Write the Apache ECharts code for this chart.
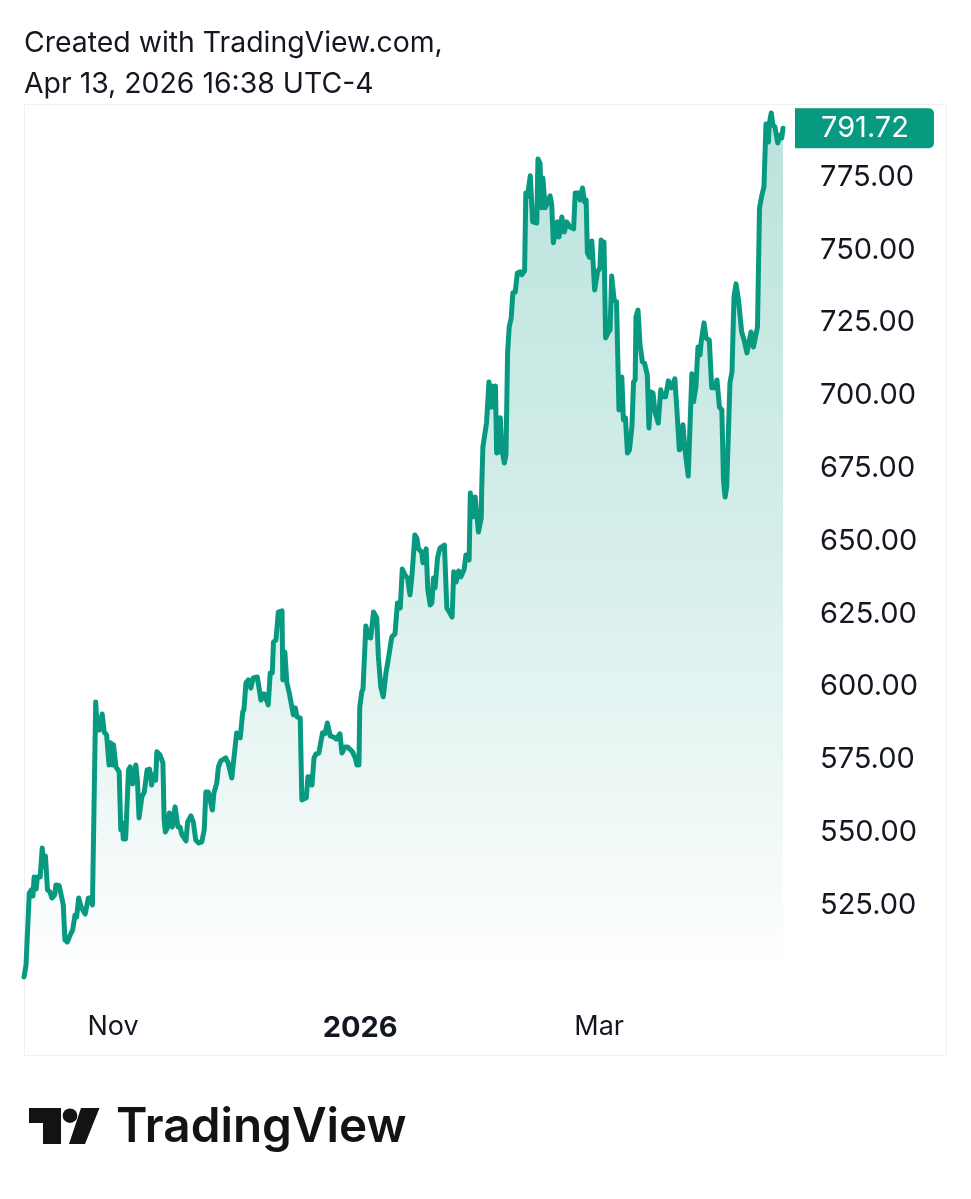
<!DOCTYPE html>
<html>
<head>
  <meta charset="utf-8">
  <title>TradingView chart</title>
  <script src="https://cdn.jsdelivr.net/npm/echarts@6/dist/echarts.min.js"></script>
  <style>
    body { margin: 0; padding: 0; background: #fff; }
    #main { width: 971px; height: 1199px; }
  </style>
</head>
<body>
<div id="main"></div>
<script>
// days counted from 2025-11-01
const days = [
  -22, -21.5, -21.2, -20.7, -20.2, -19.8, -19.5, -19, -18.7, -18, -17.5, -17.1, -16.7, -16.2, -15.6, -15.1, -14.4, -14.1, -13.3, -12.3,
  -11.9, -11.3, -10.6, -10, -9.4, -9, -8.5, -7.9, -7.5, -6.9, -6.1, -5.5, -5.1, -4.7, -4.3, -3.9, -3.4, -2.7, -2.2, -1.6,
  -1, -0.6, -0.2, 0.1, 0.7, 1.5, 1.9, 2.3, 2.5, 3.1, 3.8, 4.2, 4.8, 5.2, 5.6, 6, 6.4, 7.1, 7.7, 8.4,
  9, 9.5, 10, 10.5, 10.8, 11.6, 12.3, 12.6, 12.9, 13.4, 13.9, 14.6, 15.3, 16, 16.5, 17, 18, 18.4, 19.2, 19.8,
  20.4, 21.1, 21.9, 22.5, 22.9, 23.5, 24.5, 24.9, 25.6, 26, 26.6, 27.8, 28.4, 29.3, 29.7, 30.5, 31.4, 32, 32.3, 32.8,
  33.4, 34, 34.6, 35.6, 36.5, 37.3, 38.3, 38.8, 39.3, 39.6, 40.2, 40.8, 41.7, 41.9, 42.4, 42.9, 43.5, 44.5, 45, 45.4,
  46.2, 46.6, 47.7, 48.1, 48.6, 49.1, 49.6, 50.1, 50.8, 51.7, 52.3, 52.9, 53.6, 54.4, 55.1, 56, 56.5, 57.3, 57.9, 59.1,
  59.8, 60.2, 60.7, 60.9, 61.4, 61.7, 62, 62.4, 63, 63.6, 64.3, 65.1, 65.5, 66.1, 66.7, 67.4, 67.8, 68.2, 68.8, 69.6,
  70.2, 70.6, 70.9, 71.4, 72.1, 72.7, 73.3, 73.8, 74.1, 74.5, 75, 75.4, 76.2, 76.5, 77.3, 77.7, 78.3, 78.7, 79.1, 79.5,
  80.1, 80.7, 81.8, 82.4, 83, 83.7, 84.1, 84.7, 85.3, 85.9, 86.7, 87.1, 87.9, 88.2, 88.6, 88.9, 89.4, 90.2, 90.9, 91,
  91.3, 92.2, 92.8, 93.3, 93.6, 94, 94.4, 94.7, 95.2, 95.6, 96, 96.6, 97, 97.4, 97.8, 98.3, 98.7, 99.3, 99.8, 100.5,
  100.9, 101.6, 101.9, 102.3, 103, 103.6, 104.6, 104.9, 105.4, 105.8, 106.1, 106.7, 107.9, 108.3, 108.7, 109.1, 109.7, 110.1, 110.8, 111.4,
  112, 112.8, 113.7, 114.1, 114.9, 115.3, 115.9, 116.4, 116.8, 117.1, 117.6, 118.2, 118.9, 119.6, 120.2, 120.5, 120.9, 121.2, 121.6, 122.3,
  122.7, 123.1, 123.7, 124.3, 124.9, 125.6, 126, 126.5, 127, 127.5, 128.1, 128.5, 128.9, 129.1, 129.6, 130.1, 130.7, 131.2, 131.9, 132.3,
  132.8, 133.3, 133.8, 134.6, 135.2, 135.7, 136.4, 137.1, 137.9, 138.7, 139.2, 139.8, 140.2, 140.7, 141.2, 142, 142.9, 143.3, 143.9, 144.4,
  144.9, 145.2, 145.9, 146.4, 147.2, 147.8, 148.6, 149.1, 149.7, 150.3, 150.7, 151.1, 151.5, 152.3, 152.8, 153.2, 153.3, 153.8, 154.4, 155.2,
  155.8, 156.5, 157.5, 158.1, 159.1, 159.6, 160.2, 160.7, 161.2, 161.8, 162, 162.5, 162.9, 163.4, 164.1, 164.7, 165.1, 165.4
];
const prices = [
  500.3, 504.4, 504.4, 529.1, 530.2, 528.1, 534.6, 530.5, 534.6, 534.6, 544.6, 538.1, 541.8, 530.2, 529.5, 527.4, 528.5, 531.9, 531.6, 525,
  513, 512.3, 514.7, 516.4, 521.6, 520.9, 527.4, 524.3, 524.3, 521.9, 527.4, 527.4, 525, 525, 594.7, 585.1, 585.1, 590.6, 584.4, 583.4,
  573.1, 580.7, 573.1, 580, 572.4, 570.7, 550.8, 553.2, 547.7, 547.7, 571.4, 572.4, 566.6, 566.6, 573.1, 567.9, 554.9, 562.1, 563.8, 571.4,
  571.7, 566.2, 569.7, 567.9, 577.6, 576.5, 573.8, 554.2, 550.1, 551.5, 556.6, 551.8, 558.7, 551.8, 551.8, 549.1, 547, 553.5, 555.6, 553.5,
  547.3, 546.3, 546.7, 550.8, 563.8, 563.8, 557.6, 563.5, 566.9, 572.4, 574.5, 575.5, 573.8, 568.6, 568.6, 584.1, 582.4, 591.3, 592, 601.3,
  602.3, 599.5, 603, 603.3, 595.4, 597.5, 593.7, 604.7, 604.7, 615.3, 616, 625.6, 626, 602.3, 611.9, 601.3, 597.8, 590.3, 592.7, 589.6,
  589.2, 561.1, 561.8, 569, 569, 566.2, 575.5, 576.9, 577.2, 584.1, 583.8, 587.5, 583.1, 582.7, 582, 583.8, 577.2, 579.3, 579.3, 577.6,
  575.5, 573.1, 573.1, 593, 598.2, 599.2, 599.5, 620.8, 617, 616.7, 625.6, 623.6, 610.2, 599.9, 596.5, 605, 608.1, 608.5, 617, 618.1,
  628.7, 629, 627, 640.4, 638.3, 637.3, 631.5, 638.3, 638.3, 652.1, 651, 647.3, 646.2, 642.5, 647.3, 633.2, 628, 628.7, 637.3, 633.9,
  644.2, 647.6, 648.6, 627, 625.6, 623.9, 639.4, 635.9, 639.7, 637.7, 640.4, 645.2, 643.5, 666.5, 666.9, 658.3, 665.1, 653.1, 657.9, 667.5,
  682.3, 690.6, 704.6, 696, 703.2, 696, 703.2, 680.2, 680.6, 692.3, 681.3, 676.8, 679.6, 714.6, 723.5, 726.6, 735.2, 735.5, 742, 742.4,
  741.4, 742.7, 769.5, 768.2, 775.4, 759.6, 759.2, 781.2, 779.8, 764.4, 774.7, 764.4, 768.5, 765.4, 752.4, 752.4, 759.6, 754.4, 761.3, 756.1,
  759.6, 757.8, 757.2, 769.5, 769.5, 767.1, 771.2, 766.4, 767.1, 749, 747.5, 753, 736.2, 742.4, 743.8, 753.4, 744.1, 752.7, 719.7, 721.8,
  722.5, 741, 732.8, 732.1, 695, 706.3, 691.6, 692.3, 680.2, 681.3, 689.2, 704.6, 705.3, 727, 729.3, 717.3, 711.5, 711.1, 707, 688.8,
  701.2, 700.8, 694.3, 690.5, 701.9, 699.5, 699.5, 705, 702.6, 705.7, 695, 681.3, 682, 689.9, 681.3, 672.3, 707.4, 697.8, 702.9, 716.6,
  713.9, 718.4, 724.9, 719.7, 719, 702.6, 702.6, 705.3, 696, 695, 671, 665.1, 668.6, 704.3, 708, 708.4, 733.8, 738.3, 732.8, 721.8,
  719, 714.6, 721.8, 716.6, 723.5, 764.4, 768.8, 771.6, 793.2, 787, 793.2, 797, 792.9, 792.2, 786.7, 789.4, 788.4, 791.72
];
const monthTicks = [0, 61, 120];
const monthLabels = ['Nov', '{b|2026}', 'Mar'];

const GREEN = '#089981';
const FONT = 'Inter';
const chart = echarts.init(document.getElementById('main'), null, { renderer: 'canvas' });

chart.setOption({
  animation: false,
  backgroundColor: '#fff',
  grid: { left: 24, right: 188, top: 104.2, height: 873.6, containLabel: false },
  xAxis: {
    type: 'value',
    min: -22,
    max: 165.4,
    splitLine: { show: false },
    axisLine: { show: false },
    axisTick: { show: false },
    axisLabel: {
      customValues: monthTicks,
      margin: 36,
      color: '#131722',
      fontFamily: FONT,
      fontSize: 27,
      formatter: function (v) { return monthLabels[monthTicks.indexOf(v)]; },
      rich: { b: { fontFamily: FONT, fontSize: 29, fontWeight: 700, color: '#131722' } }
    }
  },
  yAxis: {
    type: 'value',
    position: 'right',
    min: 500,
    max: 800,
    interval: 25,
    splitLine: { show: false },
    axisLine: { show: false },
    axisTick: { show: false },
    axisLabel: {
      margin: 37,
      color: '#131722',
      fontFamily: FONT,
      fontSize: 29,
      padding: [3, 0, 0, 0],
      formatter: function (v) { return v === 500 || v === 800 ? '' : v.toFixed(2); }
    }
  },
  series: [{
    type: 'line',
    data: days.map(function (d, i) { return [d, prices[i]]; }),
    symbol: 'none',
    smooth: false,
    lineStyle: { color: GREEN, width: 5, join: 'round', cap: 'round' },
    areaStyle: {
      opacity: 1,
      color: new echarts.graphic.LinearGradient(0, 0, 0, 1, [
        { offset: 0, color: 'rgba(8,153,129,0.28)' },
        { offset: 0.5, color: 'rgba(8,153,129,0.17)' },
        { offset: 1, color: 'rgba(8,153,129,0)' }
      ])
    },
    endLabel: {
      show: true,
      distance: 12,
      formatter: function (p) { return p.value[1].toFixed(2); },
      color: '#fff',
      fontFamily: FONT,
      fontSize: 29,
      backgroundColor: GREEN,
      borderRadius: [0, 5, 5, 0],
      padding: [7, 25, 6, 26],
      lineHeight: 27
    }
  }],
  graphic: [
    { type: 'rect', silent: true, z: -1, shape: { x: 24.5, y: 104.5, width: 922, height: 951 }, style: { fill: 'none', stroke: '#eef0f3', lineWidth: 1 } },
    { type: 'text', x: 24, y: 29, style: { text: 'Created with TradingView.com,', fill: '#131722', font: '28.4px ' + FONT } },
    { type: 'text', x: 24, y: 70, style: { text: 'Apr 13, 2026 16:38 UTC-4', fill: '#131722', font: '28.4px ' + FONT } },
    // logo
    { type: 'polygon', shape: { points: [[29, 1108], [61, 1108], [61, 1144], [43, 1144], [43, 1123], [29, 1123]] }, style: { fill: '#131313' } },
    { type: 'circle', shape: { cx: 70, cy: 1115.7, r: 7.3 }, style: { fill: '#131313' } },
    { type: 'polygon', shape: { points: [[81, 1108], [99.5, 1108], [85, 1144], [69, 1144]] }, style: { fill: '#131313' } },
    { type: 'text', x: 116, y: 1104, style: { text: 'TradingView', fill: '#131313', font: '600 47.7px ' + FONT } }
  ]
});
</script>
</body>
</html>
